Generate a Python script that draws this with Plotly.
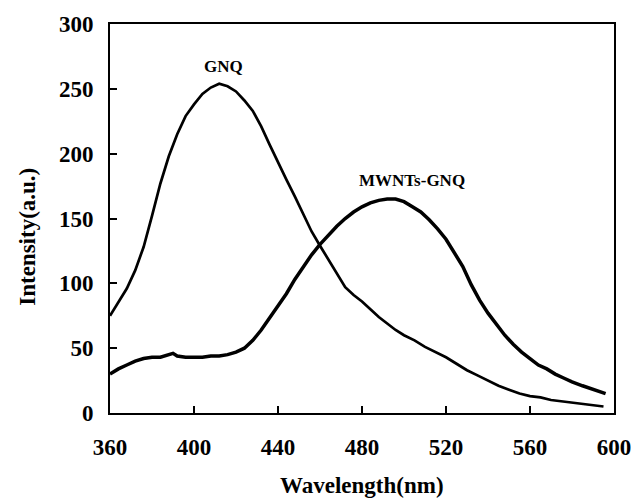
import plotly.graph_objects as go

# GNQ emission spectrum
gnq_x = [360, 364, 368, 372, 376, 380, 384, 388, 392, 396, 400, 404, 408, 412, 416, 420,
         424, 428, 432, 436, 440, 444, 448, 452, 456, 460, 464, 468, 472, 476, 480, 484,
         488, 492, 496, 500, 505, 510, 515, 520, 525, 530, 535, 540, 545, 550, 555, 560,
         565, 570, 575, 580, 585, 590, 595]
gnq_y = [75, 86, 96, 110, 128, 152, 177, 198, 215, 229, 238, 246, 251, 254, 252, 248,
         241, 233, 221, 207, 193, 180, 167, 153, 140, 129, 118, 107, 97, 91, 86, 80,
         74, 69, 64, 60, 56, 51, 47, 43, 38, 33, 29, 25, 21, 18, 15, 13,
         12, 10, 9, 8, 7, 6, 5]

# MWNTs-GNQ emission spectrum
mw_x = [360, 364, 368, 372, 376, 380, 384, 388, 390, 392, 396, 400, 404, 408, 412, 416,
        420, 424, 428, 432, 436, 440, 444, 448, 452, 456, 460, 464, 468, 472, 476, 480,
        484, 488, 492, 496, 500, 504, 508, 512, 516, 520, 524, 528, 532, 536, 540, 544,
        548, 552, 556, 560, 564, 568, 572, 576, 580, 585, 590, 596]
mw_y = [30, 34, 37, 40, 42, 43, 43, 45, 46, 44, 43, 43, 43, 44, 44, 45,
        47, 50, 56, 64, 73, 82, 92, 103, 113, 122, 130, 137, 144, 150, 155, 159,
        162, 164, 165, 165, 163, 159, 155, 149, 142, 134, 124, 113, 99, 87, 77, 68,
        60, 53, 47, 42, 37, 34, 30, 27, 24, 21, 18, 15]

x_ticks = [360, 400, 440, 480, 520, 560, 600]
y_ticks = [0, 50, 100, 150, 200, 250, 300]

FONT = "Liberation Serif, Times New Roman, serif"

fig = go.Figure()
fig.add_trace(go.Scatter(x=gnq_x, y=gnq_y, mode="lines", name="GNQ",
                         line=dict(color="black", width=2.7)))
fig.add_trace(go.Scatter(x=mw_x, y=mw_y, mode="lines", name="MWNTs-GNQ",
                         line=dict(color="black", width=3.5)))

fig.update_layout(
    width=643, height=498,
    margin=dict(l=110, r=20, t=23, b=85),
    paper_bgcolor="white", plot_bgcolor="white",
    showlegend=False,
    font=dict(family=FONT, color="black", size=22, weight=700),
)
fig.update_xaxes(
    range=[360, 600], tickvals=x_ticks, ticktext=[str(v) for v in x_ticks],
    showgrid=False, zeroline=False,
    showline=True, linecolor="black", linewidth=2, mirror=True,
    ticks="inside", ticklen=7, tickwidth=2, tickcolor="black",
    tickfont=dict(family=FONT, size=23, color="black", weight=700),
    ticklabelstandoff=12,
)
fig.update_yaxes(
    range=[0, 300], tickvals=y_ticks, ticktext=[str(v) for v in y_ticks],
    showgrid=False, zeroline=False,
    showline=True, linecolor="black", linewidth=2, mirror=True,
    ticks="inside", ticklen=7, tickwidth=2, tickcolor="black",
    tickfont=dict(family=FONT, size=23, color="black", weight=700),
    ticklabelstandoff=10,
)

# axis titles
fig.add_annotation(text="Wavelength(nm)", xref="paper", yref="paper",
                   x=0.5, y=-0.187, xanchor="center", yanchor="middle",
                   showarrow=False, font=dict(family=FONT, size=23, weight=700))
fig.add_annotation(text="Intensity(a.u.)", xref="paper", yref="paper",
                   x=-0.164, y=0.454, xanchor="center", yanchor="middle",
                   textangle=-90, showarrow=False,
                   font=dict(family=FONT, size=23, weight=700))

# curve labels
fig.add_annotation(text="GNQ", x=414, y=267, xref="x", yref="y",
                   showarrow=False, font=dict(family=FONT, size=17, weight=700))
fig.add_annotation(text="MWNTs-GNQ", x=504, y=179, xref="x", yref="y",
                   showarrow=False, font=dict(family=FONT, size=17, weight=700))

fig.write_html("out.html",
               config={"displayModeBar": False},
               post_script="document.body.style.margin='0';document.body.style.overflow='hidden';")
